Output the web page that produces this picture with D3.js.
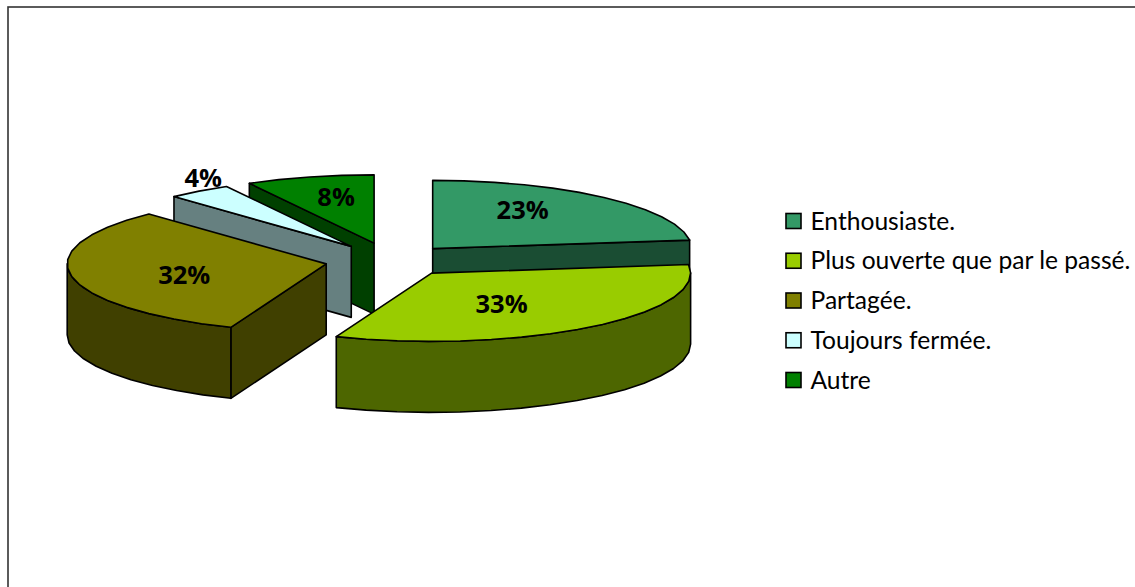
<!DOCTYPE html>
<html><head><meta charset="utf-8">
<style>html,body{margin:0;padding:0;background:#fff;overflow:hidden}svg{display:block}</style>
<script src="https://cdn.jsdelivr.net/npm/d3@7"></script></head>
<body><svg id="c" width="1135" height="587"></svg>
<script>
const categories = ["Enthousiaste.", "Plus ouverte que par le passé.", "Partagée.", "Toujours fermée.", "Autre"];
const values = [23, 33, 32, 4, 8];
const topColors = ["#339966", "#99cc00", "#808000", "#ccffff", "#008000"];
const sideColors = ["#1a4d33", "#4d6600", "#404000", "#668080", "#004000"];
const explode = [60, 63, 68, 71, 76];
const lift = [0, -0.5, 0, 1, 2];
const drawOrder = [4, 3, 0, 2, 1];
const labelOffsets = [[90, -39], [70, 31], [-142, 11], [-148, -68], [-38, -46]];

const R = 259, tilt = 68 / 258, depth = 71, cx = 393, cy = 260.5;
const svg = d3.select("#c");
svg.append("rect").attr("x", 8).attr("y", 7).attr("width", 1300).attr("height", 800)
  .attr("fill", "#fff").attr("stroke", "#333").attr("stroke-width", 1.6);

const sx = d3.scaleLinear().domain([-1, 1]).range([-R, R]);
const sy = d3.scaleLinear().domain([-1, 1]).range([R * tilt, -R * tilt]);
const arcs = d3.pie().sort(null).value(d => d)(values);
const line = d3.line();
const HALF = Math.PI / 2;

function apexOf(a) {
  const m = (a.startAngle + a.endAngle) / 2, e = explode[a.index] / R;
  return [cx + sx(e * Math.sin(m)), cy + sy(e * Math.cos(m)) + lift[a.index]];
}
function rim(o, t, dz = 0) { return [o[0] + sx(Math.sin(t)), o[1] + sy(Math.cos(t)) + dz]; }
function samples(a0, a1) {
  const step = 7 * Math.PI / 180, n = Math.max(1, Math.round((a1 - a0) / step));
  return d3.range(n + 1).map(i => a0 + (a1 - a0) * i / n);
}
const styled = (sel, fill) => sel.attr("fill", fill).attr("stroke", "#000")
  .attr("stroke-width", 1.6).attr("stroke-linejoin", "round");

drawOrder.forEach(i => {
  const a = arcs[i], o = apexOf(a), g = svg.append("g");
  [[a.startAngle, -1], [a.endAngle, 1]].forEach(([t, side]) => {
    if (Math.sin(t) * side <= 1e-9) return;
    const p = rim(o, t), q = rim(o, t, depth);
    styled(g.append("path"), sideColors[i])
      .attr("d", line([o, p, q, [o[0], o[1] + depth]]) + "Z");
  });
  const w0 = Math.max(a.startAngle, HALF), w1 = Math.min(a.endAngle, 3 * HALF);
  if (w1 > w0) {
    const ts = samples(w0, w1);
    const pts = ts.map(t => rim(o, t)).concat(ts.slice().reverse().map(t => rim(o, t, depth)));
    styled(g.append("path"), sideColors[i]).attr("d", line(pts) + "Z");
  }
  const top = [o].concat(samples(a.startAngle, a.endAngle).map(t => rim(o, t)));
  styled(g.append("path"), topColors[i]).attr("d", line(top) + "Z");
});

arcs.forEach(a => {
  const o = apexOf(a), d = labelOffsets[a.index];
  svg.append("text").attr("x", o[0] + d[0]).attr("y", o[1] + d[1]).attr("dy", "0.35em")
    .attr("text-anchor", "middle").attr("font-family", "'Open Sans'").attr("font-weight", 700)
    .attr("font-size", 25.5).attr("fill", "#000").text(d3.format("d")(a.value) + "%");
});

const ly = d3.scalePoint().domain(categories).range([221, 380]);
categories.forEach((c, i) => {
  svg.append("rect").attr("x", 786).attr("y", ly(c) - 7.5).attr("width", 15).attr("height", 15)
    .attr("fill", topColors[i]).attr("stroke", "#000").attr("stroke-width", 1.6);
  svg.append("text").attr("x", 810.5).attr("y", ly(c)).attr("dy", "0.35em")
    .attr("font-family", "Lato").attr("font-size", 24.6).attr("fill", "#000").text(c);
});
</script></body></html>
